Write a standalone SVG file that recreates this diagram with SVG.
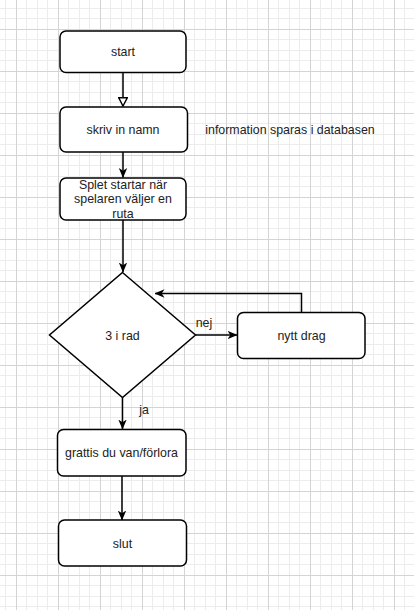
<svg xmlns="http://www.w3.org/2000/svg" width="414" height="610" viewBox="0 0 414 610">
<style>
.box{fill:#fff;stroke:#000;stroke-width:1.5}
.t{font-family:"Liberation Sans",Arial,sans-serif;font-size:12.4px;fill:#222;text-anchor:middle}
.c{fill:none;stroke:#000;stroke-width:1.5}
</style>
<defs>
<pattern id="grid" x="16" y="29" width="42" height="42" patternUnits="userSpaceOnUse">
<rect x="10" y="0" width="1" height="42" fill="#ececec"/>
<rect x="21" y="0" width="1" height="42" fill="#ececec"/>
<rect x="31" y="0" width="1" height="42" fill="#ececec"/>
<rect x="0" y="10" width="42" height="1" fill="#ececec"/>
<rect x="0" y="21" width="42" height="1" fill="#ececec"/>
<rect x="0" y="31" width="42" height="1" fill="#ececec"/>
<rect x="0" y="0" width="1" height="42" fill="#d4d4d4"/>
<rect x="0" y="0" width="42" height="1" fill="#d4d4d4"/>
</pattern>
<marker id="arr" viewBox="0 0 10 10" refX="9.5" refY="5" markerWidth="10" markerHeight="10" markerUnits="userSpaceOnUse" orient="auto">
<path d="M0,0.8 L10,5 L0,9.2 L2.8,5 z" fill="#000"/>
</marker>
<marker id="open" viewBox="0 0 10 10" refX="9.3" refY="5" markerWidth="10" markerHeight="10" markerUnits="userSpaceOnUse" orient="auto">
<path d="M1,0.6 L9.3,5 L1,9.4 z" fill="#fff" stroke="#000" stroke-width="1.4"/>
</marker>
</defs>
<rect width="414" height="610" fill="#fff"/>
<rect width="414" height="610" fill="url(#grid)"/>

<g id="connectors">
<path class="c" d="M123,72.5 V106" marker-end="url(#open)"/>
<path class="c" d="M123,152 V177.5" marker-end="url(#arr)"/>
<path class="c" d="M123,220 V272" marker-end="url(#arr)"/>
<path class="c" d="M195.5,335 H237" marker-end="url(#arr)"/>
<path class="c" d="M301.5,312 V293.5 H155" marker-end="url(#arr)"/>
<path class="c" d="M122.5,397.5 V429" marker-end="url(#arr)"/>
<path class="c" d="M122,476 V520" marker-end="url(#arr)"/>
<text class="t" x="204" y="327">nej</text>
<text class="t" x="144" y="414">ja</text>
</g>

<g id="start">
<rect class="box" x="60" y="31" width="126" height="41.5" rx="6"/>
<text class="t" x="123" y="56">start</text>
</g>
<g id="skriv">
<rect class="box" x="60" y="107" width="127.5" height="45" rx="6"/>
<text class="t" x="123" y="134">skriv in namn</text>
</g>
<g id="info">
<text class="t" x="290" y="134">information sparas i databasen</text>
</g>
<g id="spelet">
<rect class="box" x="60" y="178" width="126" height="42" rx="6"/>
<text class="t" x="123" y="188.5">Splet startar när</text>
<text class="t" x="123" y="203">spelaren väljer en</text>
<text class="t" x="123" y="217.5">ruta</text>
</g>
<g id="rad">
<path class="box" d="M122.5,272.5 L195.5,335 L122.5,397.5 L49.5,335 z"/>
<text class="t" x="122.5" y="339.5">3 i rad</text>
</g>
<g id="nytt">
<rect class="box" x="237.5" y="312.5" width="127.5" height="46" rx="6"/>
<text class="t" x="301.5" y="339.5">nytt drag</text>
</g>
<g id="grattis">
<rect class="box" x="57.5" y="429.5" width="128.5" height="46.5" rx="6"/>
<text class="t" x="121.5" y="457">grattis du van/förlora</text>
</g>
<g id="slut">
<rect class="box" x="58.5" y="520" width="128" height="46" rx="6"/>
<text class="t" x="122.5" y="548">slut</text>
</g>
</svg>
